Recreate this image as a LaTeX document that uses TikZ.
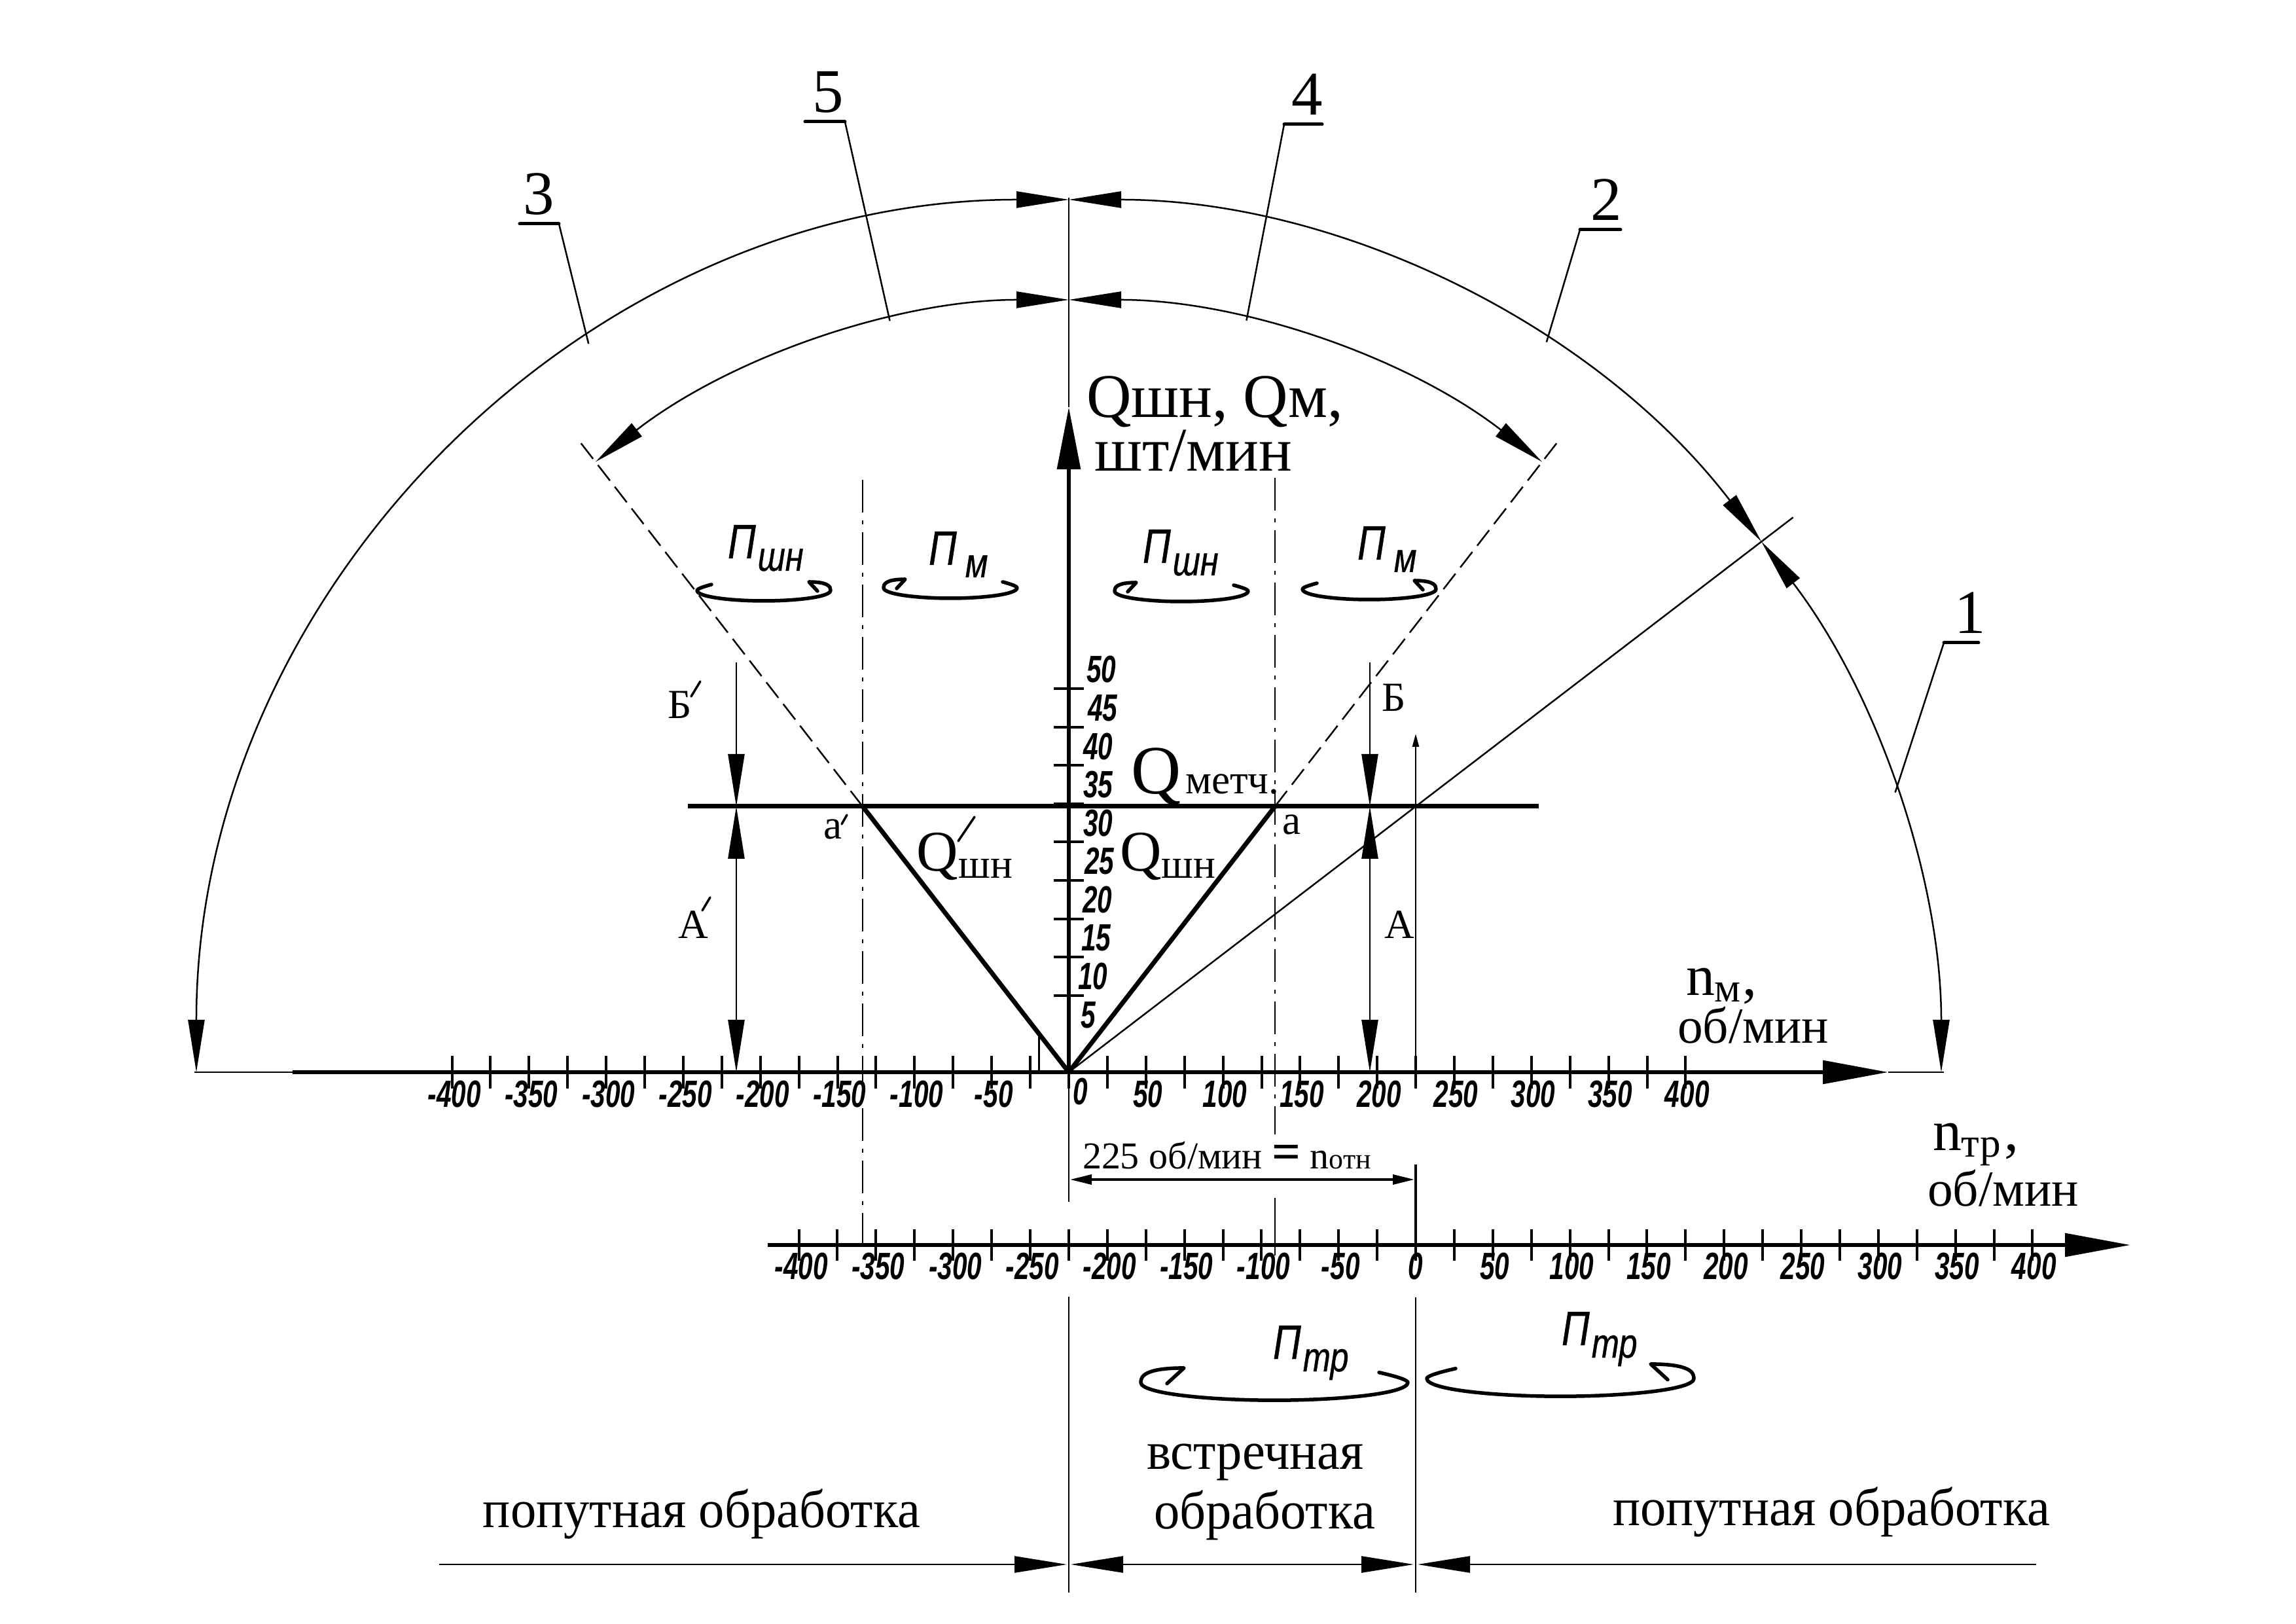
\documentclass[tikz,border=0pt]{standalone}
\usepackage{fontspec}
\setmainfont{Liberation Serif}
\newfontfamily\isofont[FakeStretch=.8,FakeBold=.6]{Liberation Sans}
\newfontfamily\tickfont[FakeStretch=.7]{Liberation Sans}
\newfontfamily\narrowfont[FakeStretch=.96]{Liberation Serif}
\usetikzlibrary{arrows.meta}
\newcommand{\fsbig}{\fontsize{27}{30}\selectfont}
\newcommand{\fsmid}{\fontsize{22}{26}\selectfont}
\newcommand{\fssub}{\fontsize{18}{20}\selectfont}
\newcommand{\turnlab}[1]{{\isofont\itshape\fontsize{21}{21}\selectfont П\raisebox{-.19cm}{\fontsize{18}{18}\selectfont\kern.03cm #1}}}
\newcommand{\qshn}{{\fontsize{25}{26}\selectfont Q\raisebox{-.11cm}{\fssub шн}}}
\tikzset{
  turn/.pic={
    \draw[line width=.055cm,line cap=round,line join=round]
      (-.80,.09) .. controls (-.95,.05) and (-1.02,.02) .. (-1.02,0)
      .. controls (-1.02,-.1) and (-.5,-.16) .. (0,-.16)
      .. controls (.5,-.16) and (1.02,-.1) .. (1.02,0)
      .. controls (1.02,.05) and (1.0,.13) .. (.69,.13) -- (.82,-.01);
  }
}
\begin{document}
\begin{tikzpicture}[
  >={Triangle[length=.8cm,width=.25cm]},
  thin line/.style={line width=.025cm},
  axis line/.style={line width=.06cm},
  tick line/.style={line width=.04cm},
  prime mark/.style={line width=.035cm,line cap=round},
  axis tip/.style={-{Triangle[length=1cm,width=.35cm]}},
  dash line/.style={thin line,dash pattern=on .3cm off .12cm},
  centre line/.style={thin line,dash pattern=on .5cm off .12cm on .06cm off .12cm},
  every node/.style={inner sep=0pt,outer sep=0pt},
  txt/.style={anchor=base west},
  ticklab/.style={font=\tickfont\bfseries\itshape\fontsize{16.5}{16.5}\selectfont}
]
\useasboundingbox (-16.33,-8.42) rectangle (18.75,16.38);

\coordinate (O) at (0,0);
\coordinate (T) at (5.30,-2.64);
\coordinate (a) at (3.15,4.06);
\coordinate (a1) at (-3.15,4.06);

% axes
\draw[axis line,axis tip] (-11.86,0) -- (12.52,0);
\draw[thin line] (-13.36,0) -- (-11.86,0);
\draw[thin line] (12.52,0) -- (13.37,0);
\draw[axis line,axis tip] (-4.60,-2.64) -- (16.22,-2.64);
\draw[axis line,-{Triangle[length=.95cm,width=.35cm]}] (O) -- (0,10.16) coordinate (Qtip);
\draw[thin line] (Qtip) -- (0,13.36);
\draw[thin line] (O) -- (0,-1.98);
\draw[thin line] (0,-3.43) -- (0,-7.95);
\draw[thin line] (5.30,-3.44) -- (5.30,-7.95);
\draw[thin line,-{Triangle[length=.2cm,width=.1cm]}] (5.30,0) -- (5.30,5.17);
\draw[line width=.04cm] (5.30,-1.41) -- (T);

% ticks
\foreach \k in {-16,...,16}{
  \draw[tick line] (\k*0.589,-.25) -- (\k*0.589,.25);
  \draw[tick line] (5.30+\k*0.589,-2.88) -- (5.30+\k*0.589,-2.40);
}
\foreach \n in {-400,-350,...,-50,50,100,...,400}{
  \node[ticklab] (xm\n) at ({\n*0.02355+.03},-.34) {\n};
  \node[ticklab] (xt\n) at ({5.30+\n*0.02355+.03},-2.97) {\n};
}
\node[ticklab] (xm0) at (.18,-.30) {0};
\node[ticklab] (xt0) at (5.30,-2.97) {0};
\foreach \k in {2,...,10}{
  \draw[tick line] (-.23,\k*.586) -- (.23,\k*.586);
}
\foreach \k/\v/\dx in {1/5/.30,2/10/.37,3/15/.42,4/20/.44,5/25/.47,6/30/.45,7/35/.45,8/40/.45,9/45/.52,10/50/.50}{
  \node[ticklab] (q\v) at (\dx,\k*.586+.29) {\v};
}
\draw[line width=.03cm] (-.46,0) -- (-.46,.57);

% work lines
\draw[axis line,line width=.07cm] (-5.82,4.06) -- (7.18,4.06);
\draw[axis line,line join=round,line width=.07cm] (a1) -- (O) -- (a);
\draw[thin line] (O) -- (37.45:13.94);
\draw[dash line] (a) -- (52.2:12.24);
\draw[dash line] (a1) -- (127.8:12.24);
\draw[centre line] (-3.15,9.05) -- (-3.15,-2.62);
\draw[centre line] (3.15,9.08) -- (3.15,-.95);
\draw[thin line] (3.15,-1.92) -- (3.15,-2.80);

% arcs
\draw[thin line,<->] (180:13.33) arc[start angle=180,end angle=90,radius=13.33];
\draw[thin line,<->] (90:13.33) arc[start angle=90,end angle=37.45,radius=13.33];
\draw[thin line,<->] (37.45:13.33) arc[start angle=37.45,end angle=0,radius=13.33];
\draw[thin line,<->] (127.8:11.80) arc[start angle=127.8,end angle=90,radius=11.80];
\draw[thin line,<->] (90:11.80) arc[start angle=90,end angle=52.2,radius=11.80];

% leaders
\foreach \lab/\cx/\ly/\ex/\nx/\ang/\rad in {1/13.37/6.56/13.90/13.77/18.7/13.33,2/7.81/12.87/8.43/8.21/56.8/13.33,3/-7.79/12.96/-8.39/-8.10/123.4/13.33,4/3.29/14.48/3.87/3.64/76.7/11.80,5/-3.42/14.52/-4.03/-3.68/103.4/11.80}{
  \draw[line width=.05cm,line cap=round] (\cx,\ly) -- (\ex,\ly);
  \draw[thin line] (\cx,\ly) -- (\ang:\rad);
  \node[anchor=base,font=\fsbig] (num\lab) at (\nx,\ly+.14) {\lab};
}

% dimension arrows
\draw[thin line,->] (-5.08,6.26) -- (-5.08,4.06);
\draw[thin line,<->] (-5.08,4.06) -- (-5.08,0);
\draw[thin line,->] (4.60,6.26) -- (4.60,4.06);
\draw[thin line,<->] (4.60,4.06) -- (4.60,0);
\draw[line width=.035cm,{Triangle[length=.33cm,width=.15cm]}-{Triangle[length=.33cm,width=.15cm]}] (.02,-1.64) -- (5.28,-1.64);
\draw[thin line,->] (-9.62,-7.52) -- (-.03,-7.52);
\draw[thin line,<->] (.03,-7.52) -- (5.27,-7.52);
\draw[thin line,<-] (5.33,-7.52) -- (14.78,-7.52);

% turning arrows
\pic (t1) at (-4.66,7.36) {turn};
\pic[xscale=-1] (t2) at (-1.81,7.40) {turn};
\pic[xscale=-1] (t3) at (1.72,7.35) {turn};
\pic (t4) at (4.59,7.38) {turn};
\pic[xscale=-2,yscale=1.7] (t5) at (3.14,-4.74) {turn};
\pic[xscale=2,yscale=1.7] (t6) at (7.51,-4.68) {turn};
\node[txt] (p1) at (-5.21,7.85) {\turnlab{шн}};
\node[txt] (p2) at (-2.14,7.75) {\turnlab{\kern.1cm м}};
\node[txt] (p3) at (1.13,7.78) {\turnlab{шн}};
\node[txt] (p4) at (4.41,7.83) {\turnlab{\kern.1cm м}};
\node[txt] (p5) at (3.12,-4.38) {\turnlab{тр}};
\node[txt] (p6) at (7.53,-4.17) {\turnlab{тр}};

% labels
\node[txt,font=\fsbig] (lq) at (.27,10.00) {Qшн, Qм,};
\node[txt,font=\fsbig] (lqu) at (.39,9.18) {шт/мин};
\node[txt] (lqm) at (.95,4.25) {\fontsize{30}{32}\selectfont Q\kern.07cm{\fssub метч.}};
\node[txt] (lqs1) at (-2.32,3.07) {\qshn};
\node[txt] (lqs) at (.78,3.07) {\qshn};
\node[txt,font=\fssub] (la1) at (-3.74,3.56) {а};
\node[txt,font=\fssub] (la) at (3.26,3.63) {а};
\node[txt,font=\fssub] (lb1) at (-6.12,5.40) {Б};
\node[txt,font=\fssub] (lb) at (4.78,5.51) {Б};
\node[txt,font=\fssub] (lc1) at (-5.96,2.04) {А};
\node[txt,font=\fssub] (lc) at (4.82,2.04) {А};
\foreach \xa/\ya/\xb/\yb in {-1.44/3.90/-1.69/3.53,-3.39/3.93/-3.47/3.79,-5.63/5.97/-5.77/5.74,-5.48/2.67/-5.60/2.47}{
  \draw[prime mark] (\xa,\ya) -- (\xb,\yb);
}
\node[txt] (lnm) at (9.43,1.17) {\fontsize{25}{28}\selectfont n\raisebox{-.1cm}{\fssub м}\kern.03cm,};
\node[txt,font=\fsmid] (lnmu) at (9.30,.44) {об/мин};
\node[txt] (lnt) at (13.20,-1.19) {\fontsize{25}{28}\selectfont n\raisebox{-.1cm}{\fssub тр}\kern.05cm,};
\node[txt,font=\fsmid] (lntu) at (13.12,-2.04) {об/мин};
\node[txt] (lrel) at (.21,-1.47) {\fontsize{16.5}{18}\selectfont 225 об/мин {\fontsize{22}{22}\selectfont\bfseries =} n{\fontsize{12.5}{14}\selectfont отн}};

\node[txt] (lv) at (1.19,-6.06) {\narrowfont\fontsize{23.3}{26}\selectfont встречная};
\node[txt] (lo) at (1.30,-6.97) {\narrowfont\fontsize{23.3}{26}\selectfont обработка};
\node[txt] (lp1) at (-8.95,-6.95) {\narrowfont\fontsize{23.3}{26}\selectfont попутная обработка};
\node[txt] (lp2) at (8.31,-6.92) {\narrowfont\fontsize{23.3}{26}\selectfont попутная обработка};
\end{tikzpicture}
\end{document}
